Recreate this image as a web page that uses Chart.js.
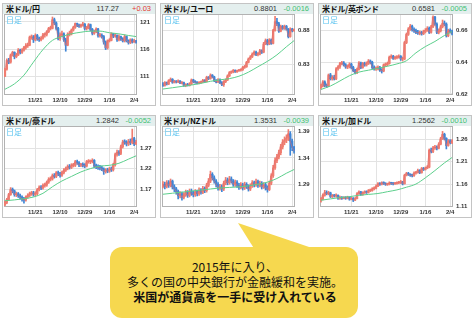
<!DOCTYPE html>
<html>
<head>
<meta charset="utf-8">
<script src="https://cdn.jsdelivr.net/npm/chart.js@4.4.1/dist/chart.umd.min.js"></script>
<style>
  body { margin: 0; width: 476px; height: 323px; background: #fff; position: relative; overflow: hidden; }
  .panel { position: absolute; width: 152px; height: 101px; border: 1px solid #c4c4c4; background: #fff; }
  .head { position: absolute; left: 0; top: 0; width: 152px; height: 10px; background: #e4efee; }
  .pair { position: absolute; left: 3px; top: 0; font: bold 8px "Noto Sans CJK JP"; line-height: 10px; color: #111; letter-spacing: -0.3px; }
  .last { position: absolute; right: 36px; top: 0; font: 7.5px "Liberation Sans"; line-height: 10px; color: #333; }
  .diff { position: absolute; right: 4px; top: 0; font: 7.5px "Liberation Sans"; line-height: 10px; }
  .tag { position: absolute; left: 3px; top: 11px; font: 8px "Noto Sans CJK JP"; line-height: 10px; color: #5ac3ef; z-index: 2; }
  .panel canvas { position: absolute; left: 1px; top: 10px; }
  .msg { position: absolute; left: 110px; top: 259px; width: 250px; text-align: center;
         font: 12px "Noto Sans CJK JP"; line-height: 15px; color: #111; }
  .msg b { font-weight: bold; }
</style>
</head>
<body>
<svg width="476" height="323" style="position:absolute;left:0;top:0">
  <polygon points="238,223 255,250 318,250" fill="#f6d84f"/>
  <rect x="110" y="247" width="248" height="71" rx="12" fill="#f6d84f"/>
</svg>
<div class="msg">2015年に入り、<br>多くの国の中央銀行が金融緩和を実施。<br><b>米国が通貨高を一手に受け入れている</b></div>
<script>
// panel headers
const pairs = ['米ドル/円', '米ドル/ユーロ', '米ドル/英ポンド', '米ドル/豪ドル', '米ドル/NZドル', '米ドル/加ドル'];
const lastPx = ['117.27', '0.8801', '0.6581', '1.2842', '1.3531', '1.2562'];
const change = ['+0.03', '-0.0016', '-0.0005', '-0.0052', '-0.0039', '-0.0010'];

// x axis: one category per trading day, labels only on these days
const dateIdx = [16, 29, 42, 55, 68];
const dateText = ['11/21', '12/10', '12/29', '1/16', '2/4'];

// moving average sampled every 5 days
const maIdx = [0, 5, 10, 15, 20, 25, 30, 35, 40, 45, 50, 55, 60, 65, 69];

// USD/JPY
const o1 = 111.0;
const c1 = [112.3,113.9,113.6,114.9,115.4,114.6,114.9,115.8,115.4,115.8,
  116.3,116.6,116.7,118.2,118.2,117.7,118.5,117.9,117.7,118.0,
  118.6,118.7,119.2,119.8,119.8,121.4,120.8,119.8,117.9,118.6,
  118.8,117.7,116.7,118.7,118.8,119.5,120.0,120.7,120.4,120.2,
  120.4,120.6,119.8,119.8,120.5,119.6,118.9,119.2,119.7,118.5,
  118.5,118.3,117.3,116.2,117.5,117.6,118.8,118.4,118.5,117.7,
  118.3,117.9,117.5,118.3,117.5,117.2,117.7,117.3,117.5,117.27];
const h1 = [112.5,114.2,114.3,115.1,115.6,115.5,115.2,116.1,116.0,116.1,
  116.5,117.0,117.1,118.4,118.6,118.5,118.8,118.7,118.2,118.3,
  118.9,119.0,119.4,120.0,120.2,121.9,121.7,121.0,120.0,119.0,
  119.3,119.0,118.0,119.0,119.3,119.7,120.2,120.8,120.8,120.6,
  120.6,120.9,120.7,120.2,120.7,120.6,119.8,119.5,119.9,119.8,
  118.9,118.8,118.5,117.5,117.7,117.9,119.0,118.9,118.8,118.6,
  118.6,118.4,118.1,118.6,118.4,117.7,117.9,117.9,117.8,117.6];
const l1 = [110.9,112.1,113.3,113.4,114.7,114.2,114.4,114.8,115.1,115.2,
  115.6,116.0,116.3,116.6,117.8,117.2,117.5,117.6,117.4,117.5,
  117.8,118.2,118.4,119.0,119.5,119.7,120.5,119.5,117.7,117.6,
  118.3,117.4,115.6,116.6,118.4,118.6,119.3,119.8,120.1,120.0,
  120.0,120.2,119.5,119.5,119.7,119.3,118.6,118.7,119.0,118.2,
  118.2,118.0,116.9,115.9,116.0,117.3,117.5,118.1,118.2,117.4,
  117.5,117.6,117.3,117.3,117.3,116.9,117.0,117.1,117.2,117.1];
const ma1 = [108.6,109.6,111.2,113.6,115.9,117.6,118.3,118.8,119.1,119.3,119.3,119.0,118.8,118.5,118.3];

// USD/EUR
const o2 = 0.8010;
const c2 = [0.7990,0.8030,0.8010,0.8060,0.8080,0.8035,0.8050,0.8040,0.8055,0.8025,
  0.8030,0.7985,0.8000,0.7990,0.8010,0.8070,0.8045,0.8035,0.8020,0.8030,
  0.8040,0.8065,0.8045,0.8110,0.8090,0.8140,0.8115,0.8060,0.8040,0.8075,
  0.8030,0.8000,0.8045,0.8070,0.8130,0.8180,0.8190,0.8210,0.8190,0.8205,
  0.8215,0.8220,0.8255,0.8265,0.8330,0.8380,0.8410,0.8450,0.8480,0.8445,
  0.8450,0.8500,0.8480,0.8600,0.8650,0.8600,0.8660,0.8610,0.8800,0.8930,
  0.8900,0.8790,0.8860,0.8830,0.8860,0.8820,0.8710,0.8820,0.8800,0.8801];
const h2 = [0.8030,0.8045,0.8040,0.8075,0.8100,0.8090,0.8065,0.8060,0.8070,0.8060,
  0.8045,0.8040,0.8015,0.8020,0.8030,0.8085,0.8080,0.8060,0.8045,0.8045,
  0.8055,0.8080,0.8075,0.8125,0.8120,0.8160,0.8150,0.8125,0.8075,0.8090,
  0.8085,0.8045,0.8060,0.8085,0.8145,0.8195,0.8205,0.8225,0.8220,0.8215,
  0.8225,0.8235,0.8270,0.8285,0.8345,0.8395,0.8430,0.8470,0.8500,0.8495,
  0.8475,0.8520,0.8515,0.8625,0.8675,0.8670,0.8680,0.8675,0.8815,0.9010,
  0.8980,0.8920,0.8880,0.8875,0.8880,0.8875,0.8830,0.8840,0.8830,0.8825];
const l2 = [0.7975,0.7980,0.7995,0.8000,0.8045,0.8020,0.8025,0.8025,0.8030,0.8015,
  0.8010,0.7975,0.7970,0.7980,0.7980,0.8000,0.8030,0.8020,0.8010,0.8010,
  0.8020,0.8030,0.8035,0.8040,0.8075,0.8080,0.8100,0.8045,0.8025,0.8030,
  0.8015,0.7985,0.7975,0.8030,0.8060,0.8120,0.8165,0.8175,0.8180,0.8180,
  0.8195,0.8200,0.8210,0.8240,0.8255,0.8320,0.8370,0.8400,0.8435,0.8430,
  0.8425,0.8440,0.8460,0.8470,0.8590,0.8585,0.8590,0.8595,0.8600,0.8790,
  0.8870,0.8770,0.8780,0.8815,0.8815,0.8805,0.8690,0.8700,0.8780,0.8785];
const ma2 = [0.7936,0.7955,0.7975,0.7995,0.8020,0.8050,0.8072,0.8090,0.8125,0.8185,0.8265,0.8345,0.8440,0.8560,0.8650];

// USD/GBP
const o3 = 0.6240;
const c3 = [0.6250,0.6276,0.6252,0.6250,0.6320,0.6295,0.6307,0.6295,0.6359,0.6371,
  0.6392,0.6396,0.6384,0.6371,0.6371,0.6388,0.6367,0.6347,0.6335,0.6355,
  0.6396,0.6367,0.6392,0.6383,0.6392,0.6408,0.6400,0.6367,0.6359,0.6359,
  0.6367,0.6350,0.6345,0.6384,0.6384,0.6392,0.6433,0.6437,0.6425,0.6430,
  0.6433,0.6437,0.6421,0.6421,0.6525,0.6577,0.6611,0.6629,0.6607,0.6599,
  0.6590,0.6586,0.6586,0.6581,0.6594,0.6603,0.6616,0.6590,0.6625,0.6687,
  0.6642,0.6590,0.6599,0.6625,0.6647,0.6642,0.6568,0.6600,0.6595,0.6581];
const h3 = [0.6262,0.6284,0.6283,0.6263,0.6326,0.6330,0.6316,0.6318,0.6366,0.6380,
  0.6400,0.6406,0.6405,0.6392,0.6384,0.6397,0.6395,0.6375,0.6355,0.6363,
  0.6404,0.6402,0.6400,0.6401,0.6403,0.6418,0.6415,0.6407,0.6377,0.6371,
  0.6378,0.6375,0.6360,0.6390,0.6396,0.6401,0.6440,0.6448,0.6445,0.6440,
  0.6442,0.6447,0.6443,0.6433,0.6532,0.6585,0.6620,0.6640,0.6636,0.6618,
  0.6610,0.6602,0.6598,0.6596,0.6604,0.6614,0.6626,0.6624,0.6634,0.6695,
  0.6692,0.6650,0.6612,0.6636,0.6668,0.6662,0.6650,0.6610,0.6612,0.6604];
const l3 = [0.6232,0.6244,0.6245,0.6240,0.6246,0.6288,0.6287,0.6288,0.6290,0.6350,
  0.6362,0.6383,0.6376,0.6362,0.6360,0.6364,0.6358,0.6340,0.6326,0.6328,
  0.6350,0.6360,0.6362,0.6375,0.6376,0.6386,0.6390,0.6360,0.6350,0.6348,
  0.6352,0.6342,0.6332,0.6340,0.6374,0.6377,0.6388,0.6425,0.6418,0.6418,
  0.6422,0.6426,0.6412,0.6408,0.6416,0.6518,0.6570,0.6602,0.6598,0.6590,
  0.6582,0.6576,0.6574,0.6572,0.6575,0.6586,0.6596,0.6582,0.6585,0.6620,
  0.6634,0.6582,0.6580,0.6592,0.6618,0.6632,0.6560,0.6562,0.6586,0.6574];
const ma3 = [0.6228,0.6250,0.6282,0.6315,0.6338,0.6350,0.6362,0.6375,0.6390,0.6410,0.6460,0.6500,0.6532,0.6570,0.6595];

// USD/AUD
const o4 = 1.132;
const c4 = [1.138,1.145,1.157,1.170,1.166,1.157,1.159,1.154,1.151,1.146,
  1.1435,1.151,1.155,1.159,1.161,1.158,1.159,1.169,1.174,1.173,
  1.179,1.180,1.187,1.194,1.195,1.203,1.201,1.210,1.207,1.204,
  1.210,1.216,1.220,1.225,1.223,1.228,1.228,1.237,1.234,1.229,
  1.229,1.228,1.226,1.237,1.237,1.237,1.240,1.226,1.225,1.223,
  1.222,1.219,1.213,1.217,1.214,1.219,1.217,1.229,1.254,1.260,
  1.257,1.273,1.2845,1.284,1.280,1.286,1.283,1.293,1.280,1.2842];
const h4 = [1.141,1.148,1.160,1.174,1.173,1.168,1.163,1.162,1.158,1.154,
  1.150,1.154,1.159,1.163,1.165,1.165,1.164,1.172,1.178,1.179,
  1.183,1.185,1.190,1.198,1.200,1.207,1.208,1.213,1.214,1.211,
  1.214,1.220,1.224,1.229,1.230,1.232,1.233,1.240,1.241,1.237,
  1.233,1.234,1.232,1.240,1.242,1.241,1.244,1.242,1.231,1.229,
  1.228,1.226,1.222,1.220,1.221,1.223,1.224,1.233,1.258,1.265,
  1.264,1.277,1.289,1.290,1.288,1.291,1.292,1.316,1.296,1.289];
const l4 = [1.130,1.135,1.143,1.155,1.161,1.153,1.152,1.150,1.146,1.141,
  1.136,1.141,1.148,1.152,1.155,1.153,1.154,1.156,1.166,1.169,
  1.170,1.175,1.177,1.184,1.190,1.192,1.197,1.198,1.203,1.199,
  1.201,1.207,1.213,1.217,1.219,1.220,1.224,1.225,1.230,1.225,
  1.225,1.224,1.222,1.224,1.233,1.232,1.234,1.222,1.220,1.218,
  1.217,1.215,1.206,1.209,1.210,1.211,1.213,1.214,1.226,1.250,
  1.252,1.254,1.270,1.279,1.275,1.276,1.278,1.280,1.276,1.278];
const ma4 = [1.142,1.144,1.147,1.151,1.160,1.176,1.190,1.201,1.212,1.220,1.226,1.228,1.233,1.243,1.251];

// USD/NZD
const o5 = 1.286;
const c5 = [1.290,1.286,1.293,1.288,1.296,1.285,1.281,1.276,1.268,1.272,
  1.265,1.270,1.275,1.269,1.277,1.273,1.270,1.276,1.272,1.279,
  1.275,1.282,1.278,1.288,1.296,1.309,1.302,1.296,1.290,1.283,
  1.285,1.281,1.292,1.298,1.293,1.300,1.296,1.290,1.294,1.288,
  1.284,1.289,1.283,1.290,1.286,1.281,1.287,1.293,1.289,1.295,
  1.288,1.292,1.285,1.289,1.283,1.280,1.292,1.306,1.321,1.335,
  1.342,1.350,1.361,1.370,1.374,1.378,1.386,1.372,1.360,1.3531];
const h5 = [1.295,1.294,1.297,1.297,1.300,1.298,1.289,1.284,1.279,1.276,
  1.275,1.274,1.279,1.278,1.281,1.281,1.277,1.280,1.279,1.283,
  1.282,1.286,1.285,1.292,1.301,1.315,1.312,1.306,1.299,1.293,
  1.290,1.289,1.296,1.303,1.302,1.305,1.304,1.299,1.298,1.297,
  1.292,1.293,1.292,1.294,1.293,1.289,1.291,1.297,1.296,1.300,
  1.298,1.296,1.295,1.293,1.292,1.287,1.296,1.310,1.326,1.340,
  1.347,1.355,1.366,1.375,1.380,1.384,1.394,1.390,1.376,1.362];
const l5 = [1.283,1.281,1.283,1.284,1.285,1.281,1.276,1.271,1.262,1.264,
  1.260,1.262,1.267,1.265,1.266,1.269,1.266,1.267,1.268,1.269,
  1.271,1.272,1.274,1.275,1.285,1.293,1.298,1.292,1.285,1.279,
  1.279,1.276,1.278,1.289,1.289,1.290,1.292,1.286,1.286,1.284,
  1.280,1.281,1.279,1.280,1.282,1.277,1.278,1.284,1.285,1.286,
  1.284,1.285,1.281,1.282,1.279,1.275,1.278,1.289,1.303,1.318,
  1.331,1.338,1.346,1.357,1.365,1.369,1.373,1.345,1.354,1.349];
const ma5 = [1.271,1.273,1.275,1.277,1.279,1.281,1.283,1.284,1.285,1.287,1.290,1.294,1.301,1.311,1.318];

// USD/CAD
const o6 = 1.122;
const c6 = [1.127,1.135,1.141,1.139,1.1405,1.1325,1.1345,1.1335,1.135,1.1285,
  1.1305,1.1285,1.1295,1.1285,1.1305,1.1265,1.1285,1.1245,1.1275,1.1385,
  1.1425,1.137,1.1405,1.1425,1.1415,1.1455,1.1455,1.1495,1.1505,1.155,
  1.1605,1.1595,1.1625,1.1615,1.1595,1.1595,1.1625,1.1615,1.1605,1.1615,
  1.1625,1.1635,1.1645,1.1605,1.1795,1.1835,1.1815,1.1795,1.1785,1.1845,
  1.1855,1.1905,1.1855,1.1945,1.1925,1.1955,1.1975,1.2355,1.2325,1.2405,
  1.2415,1.2395,1.2485,1.2605,1.2705,1.2615,1.2455,1.2560,1.2520,1.2562];
const h6 = [1.130,1.138,1.146,1.145,1.144,1.142,1.137,1.137,1.138,1.136,
  1.133,1.132,1.132,1.132,1.133,1.132,1.131,1.130,1.130,1.141,
  1.145,1.144,1.143,1.145,1.145,1.148,1.149,1.152,1.154,1.158,
  1.163,1.163,1.165,1.165,1.163,1.162,1.165,1.164,1.163,1.164,
  1.165,1.166,1.168,1.166,1.182,1.186,1.186,1.183,1.182,1.187,
  1.188,1.193,1.192,1.197,1.197,1.198,1.201,1.238,1.240,1.244,
  1.246,1.245,1.252,1.264,1.277,1.273,1.263,1.259,1.259,1.259];
const l6 = [1.120,1.125,1.133,1.136,1.136,1.130,1.130,1.131,1.131,1.126,
  1.126,1.126,1.127,1.126,1.127,1.124,1.125,1.121,1.123,1.127,
  1.137,1.135,1.135,1.139,1.139,1.140,1.143,1.144,1.147,1.149,
  1.154,1.157,1.158,1.159,1.157,1.157,1.158,1.159,1.158,1.159,
  1.160,1.161,1.161,1.158,1.160,1.178,1.179,1.177,1.176,1.177,
  1.182,1.184,1.183,1.184,1.190,1.191,1.194,1.196,1.229,1.230,
  1.237,1.236,1.238,1.247,1.259,1.258,1.238,1.244,1.249,1.250];
const ma6 = [1.124,1.127,1.130,1.132,1.135,1.137,1.139,1.143,1.147,1.153,1.160,1.174,1.190,1.207,1.219];

// y axis ticks and ranges
const yTicks = [[111, 116, 121], [0.83, 0.88], [0.62, 0.64, 0.66], [1.17, 1.22, 1.27], [1.29, 1.34, 1.39], [1.11, 1.16, 1.21, 1.26]];
const yMin = [107.55, 0.7848, 0.6193, 1.1268, 1.2468, 1.109];
const yMax = [122.45, 0.9043, 0.6706, 1.3235, 1.4007, 1.289];
const yDec = [0, 2, 2, 2, 2, 2];

const series = [
  { open: o1, close: c1, high: h1, low: l1, ma: ma1 },
  { open: o2, close: c2, high: h2, low: l2, ma: ma2 },
  { open: o3, close: c3, high: h3, low: l3, ma: ma3 },
  { open: o4, close: c4, high: h4, low: l4, ma: ma4 },
  { open: o5, close: c5, high: h5, low: l5, ma: ma5 },
  { open: o6, close: c6, high: h6, low: l6, ma: ma6 }
];

const panelLeft = [2, 160, 318];
const panelTop = [3, 115];

const upColor = '#ef7d70';
const downColor = '#3f86d6';
const tickFont = { family: 'Liberation Sans', size: 6, weight: 'bold' };

// box around the plot area
const frame = {
  id: 'frame',
  beforeDatasetsDraw(chart) {
    const a = chart.chartArea, ctx = chart.ctx;
    ctx.save();
    ctx.strokeStyle = '#b2b2b2';
    ctx.lineWidth = 1;
    ctx.strokeRect(a.left + 0.5, a.top + 0.5, a.right - a.left - 1, a.bottom - a.top - 1);
    ctx.restore();
  }
};

series.forEach((s, k) => {
  const div = document.createElement('div');
  div.className = 'panel';
  div.style.left = panelLeft[k % 3] + 'px';
  div.style.top = panelTop[Math.floor(k / 3)] + 'px';
  const up = change[k][0] === '+';
  div.innerHTML =
    '<div class="head"><span class="pair">' + pairs[k] + '</span>' +
    '<span class="last">' + lastPx[k] + '</span>' +
    '<span class="diff" style="color:' + (up ? '#e3382e' : '#3fbf72') + '">' + change[k] + '</span></div>' +
    '<span class="tag">日足</span>' +
    '<canvas width="150" height="91"></canvas>';
  document.body.appendChild(div);

  const labels = s.close.map((_, i) => i);
  const opens = s.close.map((c, i) => i ? s.close[i - 1] : s.open);
  const colors = s.close.map((c, i) => c >= opens[i] ? upColor : downColor);

  new Chart(div.querySelector('canvas'), {
    type: 'bar',
    data: {
      labels: labels,
      datasets: [
        {
          type: 'line',
          data: maIdx.map((x, i) => ({ x: x, y: s.ma[i] })),
          borderColor: '#5ccf8c',
          borderWidth: 1,
          pointRadius: 0,
          cubicInterpolationMode: 'monotone'
        },
        {
          type: 'line',
          data: s.close,
          borderColor: 'rgba(226,110,110,0.6)',
          borderWidth: 1,
          pointRadius: 0
        },
        {
          data: s.close.map((c, i) => [opens[i], c]),
          backgroundColor: colors,
          barThickness: 1.7,
          minBarLength: 1,
          grouped: false
        },
        {
          data: s.close.map((c, i) => [s.low[i], s.high[i]]),
          backgroundColor: colors,
          barThickness: 1,
          grouped: false
        }
      ]
    },
    options: {
      responsive: false,
      animation: false,
      events: [],
      layout: { padding: 0 },
      plugins: { legend: { display: false }, tooltip: { enabled: false } },
      scales: {
        x: {
          offset: true,
          grid: { offset: false, color: '#e3e3e3', drawTicks: false },
          border: { display: false },
          ticks: { autoSkip: false, maxRotation: 0, padding: 2, color: '#333', font: tickFont,
                   callback: (v, i) => dateText[i] },
          afterBuildTicks: sc => { sc.ticks = dateIdx.map(v => ({ value: v })); },
          afterFit: sc => { sc.height = 10; sc.paddingLeft = 0; sc.paddingRight = 0; }
        },
        y: {
          position: 'right',
          min: yMin[k],
          max: yMax[k],
          grid: { color: '#e3e3e3', drawTicks: false },
          border: { display: false },
          ticks: { padding: 3, color: '#333', font: tickFont, callback: v => v.toFixed(yDec[k]) },
          afterBuildTicks: sc => { sc.ticks = yTicks[k].map(v => ({ value: v })); },
          afterFit: sc => { sc.width = 17; sc.paddingTop = 0; sc.paddingBottom = 0; }
        }
      }
    },
    plugins: [frame]
  });
});
</script>
</body>
</html>
